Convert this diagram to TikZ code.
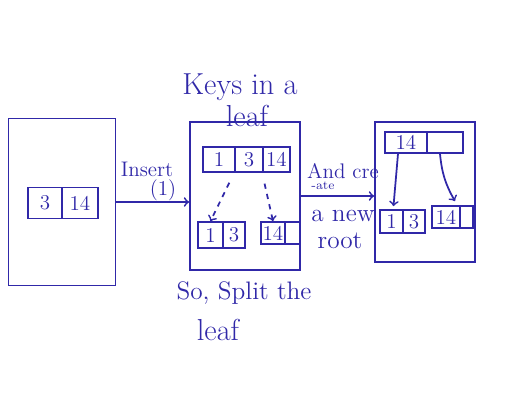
\documentclass[tikz,border=0pt]{standalone}
\usepackage{tikz}
\usetikzlibrary{calc}
\definecolor{ink}{RGB}{48,40,168}
\tikzset{
  leafbox/.style={draw=ink, line width=1.1pt, inner sep=0pt},
  cell/.style={draw=ink, line width=1pt, inner sep=0pt, font=\large, text=ink},
  note/.style={text=ink, inner sep=1pt},
  arr/.style={draw=ink, line width=1pt, ->},
}
\begin{document}
\begin{tikzpicture}[x=0.02cm, y=-0.02cm]
    \useasboundingbox (0,0) rectangle (512,413);

 	% leaf before the insert
 	\node[leafbox, minimum width=2.14cm, minimum height=3.34cm] (leafA) at (62,202) {};
 	\node[cell, minimum width=0.68cm, minimum height=0.62cm] (a1) at (45,203) {3};
 	\node[cell, minimum width=0.72cm, minimum height=0.62cm] (a2) at (80,203) {14};

 	% leaf that is too full
 	\node[leafbox, minimum width=2.2cm, minimum height=2.96cm] (split) at (245,196) {};
 	\node[cell, minimum width=0.64cm, minimum height=0.5cm] (m1) at (219,159.5) {1};
 	\node[cell, minimum width=0.56cm, minimum height=0.5cm] (m2) at (249,159.5) {3};
 	\node[cell, minimum width=0.54cm, minimum height=0.5cm] (m3) at (276.5,159.5) {14};
 	\node[cell, minimum width=0.5cm, minimum height=0.52cm] (b1) at (210.5,235) {1};
 	\node[cell, minimum width=0.44cm, minimum height=0.52cm] (b2) at (234,235) {3};
 	\node[cell, minimum width=0.48cm, minimum height=0.44cm] (c1) at (273,233) {14};
 	\node[cell, minimum width=0.3cm, minimum height=0.44cm] (c2) at (292.5,233) {};
 	\draw[arr, dashed, shorten <=0.22cm] (m2.south west) -- (b1.north);
 	\draw[arr, dashed, shorten <=0.22cm] (m3.south west) -- (c1.north);

 	% new root
 	\node[leafbox, minimum width=2cm, minimum height=2.8cm] (tree) at (425,192) {};
 	\node[cell, minimum width=0.84cm, minimum height=0.42cm] (r1) at (406,142.5) {14};
 	\node[cell, minimum width=0.72cm, minimum height=0.42cm] (r2) at (445,142.5) {};
 	\node[cell, minimum width=0.46cm, minimum height=0.46cm] (l1) at (391.5,221.5) {1};
 	\node[cell, minimum width=0.44cm, minimum height=0.46cm] (l2) at (414,221.5) {3};
 	\node[cell, minimum width=0.56cm, minimum height=0.44cm] (q1) at (446,217) {14};
 	\node[cell, minimum width=0.26cm, minimum height=0.44cm] (q2) at (466.5,217) {};
 	\draw[arr] ([shift={(-8,0)}]r1.south) -- ([shift={(2,-3)}]l1.north);
 	\draw[arr] ([shift={(-5,0)}]r2.south) to[bend right=12] ([shift={(9,-4)}]q1.north);

 	% steps
 	\draw[arr] (leafA.east) -- (leafA.east -| split.west);
 	\draw[arr] (split.east) -- (split.east -| tree.west);

 	\node[note, font=\large] (ins) at (147,169) {Insert};
 	\node[note, font=\large] (one) at (163,190) {(1)};
 	\node[note, font=\LARGE] (keys) at (240,87) {Keys in a};
 	\node[note, font=\LARGE] (leaf1) at (247,116) {leaf};
 	\node[note, font=\large] (andcre) at (343,171) {And cre};
 	\node[note, font=\scriptsize] (ate) at (323,186) {-ate};
 	\node[note, font=\Large] (anew) at (343,216) {a new};
 	\node[note, font=\Large] (root) at (340,241) {root};
 	\node[note, font=\Large] (so) at (244,293) {So, Split the};
 	\node[note, font=\LARGE] (leaf2) at (218,330) {leaf};
\end{tikzpicture}
\end{document}
